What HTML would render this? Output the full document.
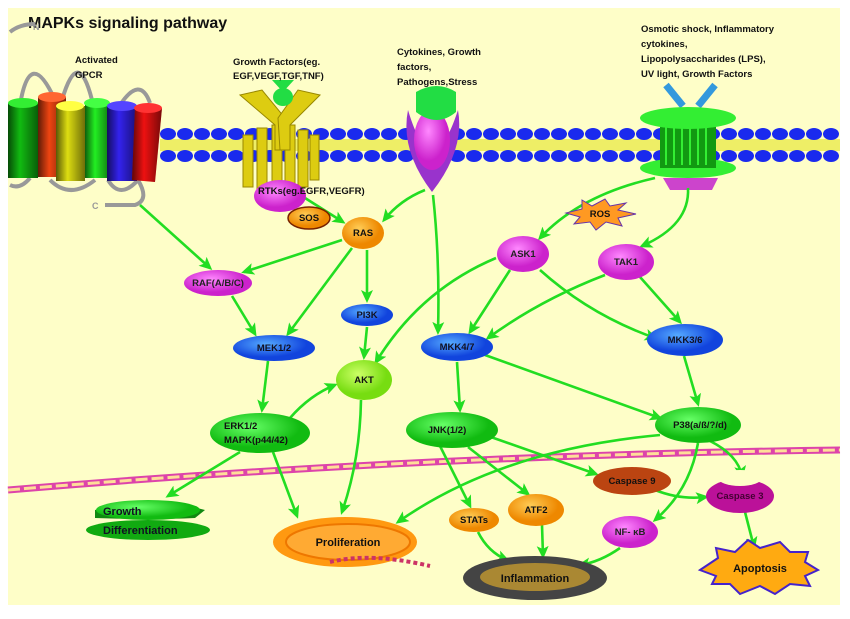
<!DOCTYPE html>
<html><head><meta charset="utf-8"><style>
html,body{margin:0;padding:0;background:#fff;width:850px;height:619px;overflow:hidden}
text{font-family:"Liberation Sans",sans-serif;font-weight:bold}
</style></head><body>
<svg width="850" height="619" viewBox="0 0 850 619" xmlns="http://www.w3.org/2000/svg">
<defs>
<marker id="a" markerWidth="14" markerHeight="12" refX="10" refY="6" orient="auto" markerUnits="userSpaceOnUse"><path d="M0,0 L13,6 L0,12 L3,6 Z" fill="#22dd22"/></marker>
<pattern id="lip" x="156" y="0" width="16.7" height="40" patternUnits="userSpaceOnUse">
<ellipse cx="8.3" cy="134" rx="8" ry="6" fill="#1a2aee"/>
</pattern>
<radialGradient id="gb" cx="40%" cy="35%"><stop offset="0" stop-color="#55aaff"/><stop offset="1" stop-color="#1144dd"/></radialGradient>
<radialGradient id="gm" cx="40%" cy="35%"><stop offset="0" stop-color="#ff88ff"/><stop offset="1" stop-color="#cc22cc"/></radialGradient>
<radialGradient id="gg" cx="40%" cy="35%"><stop offset="0" stop-color="#66ff66"/><stop offset="1" stop-color="#11bb11"/></radialGradient>
<radialGradient id="go" cx="40%" cy="35%"><stop offset="0" stop-color="#ffcc55"/><stop offset="1" stop-color="#ee8800"/></radialGradient>
<radialGradient id="gl" cx="40%" cy="35%"><stop offset="0" stop-color="#ccff66"/><stop offset="1" stop-color="#77dd11"/></radialGradient>
<linearGradient id="cy" x1="0" x2="1"><stop offset="0" stop-color="#000" stop-opacity=".6"/><stop offset=".4" stop-color="#000" stop-opacity="0"/><stop offset="1" stop-color="#000" stop-opacity=".5"/></linearGradient>
</defs>
<rect x="8" y="8" width="832" height="597" fill="#fefec8"/>
<text x="28" y="28" font-size="16" fill="#111">MAPKs signaling pathway</text>

<!-- membrane -->
<rect x="160" y="139" width="680" height="12" fill="#eeee66"/>
<g fill="#1a2aee">
<ellipse cx="168" cy="134" rx="8" ry="6"/><ellipse cx="185" cy="134" rx="8" ry="6"/><ellipse cx="202" cy="134" rx="8" ry="6"/><ellipse cx="219" cy="134" rx="8" ry="6"/><ellipse cx="236" cy="134" rx="8" ry="6"/><ellipse cx="253" cy="134" rx="8" ry="6"/><ellipse cx="270" cy="134" rx="8" ry="6"/><ellipse cx="287" cy="134" rx="8" ry="6"/><ellipse cx="304" cy="134" rx="8" ry="6"/><ellipse cx="321" cy="134" rx="8" ry="6"/><ellipse cx="338" cy="134" rx="8" ry="6"/><ellipse cx="355" cy="134" rx="8" ry="6"/><ellipse cx="372" cy="134" rx="8" ry="6"/><ellipse cx="389" cy="134" rx="8" ry="6"/><ellipse cx="406" cy="134" rx="8" ry="6"/><ellipse cx="423" cy="134" rx="8" ry="6"/><ellipse cx="440" cy="134" rx="8" ry="6"/><ellipse cx="457" cy="134" rx="8" ry="6"/><ellipse cx="474" cy="134" rx="8" ry="6"/><ellipse cx="491" cy="134" rx="8" ry="6"/><ellipse cx="508" cy="134" rx="8" ry="6"/><ellipse cx="525" cy="134" rx="8" ry="6"/><ellipse cx="542" cy="134" rx="8" ry="6"/><ellipse cx="559" cy="134" rx="8" ry="6"/><ellipse cx="576" cy="134" rx="8" ry="6"/><ellipse cx="593" cy="134" rx="8" ry="6"/><ellipse cx="610" cy="134" rx="8" ry="6"/><ellipse cx="627" cy="134" rx="8" ry="6"/><ellipse cx="644" cy="134" rx="8" ry="6"/><ellipse cx="661" cy="134" rx="8" ry="6"/><ellipse cx="678" cy="134" rx="8" ry="6"/><ellipse cx="695" cy="134" rx="8" ry="6"/><ellipse cx="712" cy="134" rx="8" ry="6"/><ellipse cx="729" cy="134" rx="8" ry="6"/><ellipse cx="746" cy="134" rx="8" ry="6"/><ellipse cx="763" cy="134" rx="8" ry="6"/><ellipse cx="780" cy="134" rx="8" ry="6"/><ellipse cx="797" cy="134" rx="8" ry="6"/><ellipse cx="814" cy="134" rx="8" ry="6"/><ellipse cx="831" cy="134" rx="8" ry="6"/>
</g>
<g fill="#1a2aee" transform="translate(0,22)">
<ellipse cx="168" cy="134" rx="8" ry="6"/><ellipse cx="185" cy="134" rx="8" ry="6"/><ellipse cx="202" cy="134" rx="8" ry="6"/><ellipse cx="219" cy="134" rx="8" ry="6"/><ellipse cx="236" cy="134" rx="8" ry="6"/><ellipse cx="253" cy="134" rx="8" ry="6"/><ellipse cx="270" cy="134" rx="8" ry="6"/><ellipse cx="287" cy="134" rx="8" ry="6"/><ellipse cx="304" cy="134" rx="8" ry="6"/><ellipse cx="321" cy="134" rx="8" ry="6"/><ellipse cx="338" cy="134" rx="8" ry="6"/><ellipse cx="355" cy="134" rx="8" ry="6"/><ellipse cx="372" cy="134" rx="8" ry="6"/><ellipse cx="389" cy="134" rx="8" ry="6"/><ellipse cx="406" cy="134" rx="8" ry="6"/><ellipse cx="423" cy="134" rx="8" ry="6"/><ellipse cx="440" cy="134" rx="8" ry="6"/><ellipse cx="457" cy="134" rx="8" ry="6"/><ellipse cx="474" cy="134" rx="8" ry="6"/><ellipse cx="491" cy="134" rx="8" ry="6"/><ellipse cx="508" cy="134" rx="8" ry="6"/><ellipse cx="525" cy="134" rx="8" ry="6"/><ellipse cx="542" cy="134" rx="8" ry="6"/><ellipse cx="559" cy="134" rx="8" ry="6"/><ellipse cx="576" cy="134" rx="8" ry="6"/><ellipse cx="593" cy="134" rx="8" ry="6"/><ellipse cx="610" cy="134" rx="8" ry="6"/><ellipse cx="627" cy="134" rx="8" ry="6"/><ellipse cx="644" cy="134" rx="8" ry="6"/><ellipse cx="661" cy="134" rx="8" ry="6"/><ellipse cx="678" cy="134" rx="8" ry="6"/><ellipse cx="695" cy="134" rx="8" ry="6"/><ellipse cx="712" cy="134" rx="8" ry="6"/><ellipse cx="729" cy="134" rx="8" ry="6"/><ellipse cx="746" cy="134" rx="8" ry="6"/><ellipse cx="763" cy="134" rx="8" ry="6"/><ellipse cx="780" cy="134" rx="8" ry="6"/><ellipse cx="797" cy="134" rx="8" ry="6"/><ellipse cx="814" cy="134" rx="8" ry="6"/><ellipse cx="831" cy="134" rx="8" ry="6"/>
</g>

<!-- GPCR -->
<g fill="none" stroke="#999" stroke-width="4">
<path d="M10,32 Q20,24 35,24"/><path d="M20,105 Q30,45 55,100"/><path d="M62,100 Q78,45 92,100"/><path d="M120,105 Q140,75 150,103"/>
<path d="M10,185 Q20,190 30,178 M50,180 Q70,200 95,180 M108,180 Q120,200 138,180 M138,180 Q150,200 135,205 L105,205"/>
</g>
<text x="33" y="30" font-size="9" fill="#999">N</text>
<text x="92" y="209" font-size="9" fill="#999">C</text>
<g>
<rect x="8" y="103" width="30" height="75" fill="#11bb11"/><rect x="8" y="103" width="30" height="75" fill="url(#cy)"/><ellipse cx="23" cy="103" rx="15" ry="5" fill="#33ee33"/>
<rect x="38" y="97" width="28" height="80" fill="#ee4411"/><rect x="38" y="97" width="28" height="80" fill="url(#cy)"/><ellipse cx="52" cy="97" rx="14" ry="5" fill="#ff6633"/>
<rect x="56" y="106" width="29" height="75" fill="#dddd11"/><rect x="56" y="106" width="29" height="75" fill="url(#cy)"/><ellipse cx="70" cy="106" rx="14" ry="5" fill="#ffff44"/>
<rect x="85" y="103" width="25" height="75" fill="#22ee22"/><rect x="85" y="103" width="25" height="75" fill="url(#cy)"/><ellipse cx="97" cy="103" rx="13" ry="5" fill="#44ff44"/>
<rect x="107" y="106" width="30" height="75" fill="#3322ee"/><rect x="107" y="106" width="30" height="75" fill="url(#cy)"/><ellipse cx="122" cy="106" rx="15" ry="5" fill="#5544ff"/>
<path d="M135,108 L162,108 L155,182 L132,180 Z" fill="#ee1111"/><path d="M135,108 L162,108 L155,182 L132,180 Z" fill="url(#cy)"/><ellipse cx="148" cy="108" rx="14" ry="5" fill="#ff3333"/>
</g>
<text x="75" y="63" font-size="9.5" fill="#111">Activated</text>
<text x="75" y="78" font-size="9.5" fill="#111">GPCR</text>

<!-- RTK -->
<g fill="#ddcc11" stroke="#998800" stroke-width="1">
<rect x="243" y="135" width="10" height="52"/><rect x="257" y="128" width="10" height="62"/><rect x="272" y="125" width="10" height="65"/><rect x="285" y="125" width="10" height="65"/><rect x="298" y="130" width="10" height="57"/><rect x="310" y="135" width="9" height="45"/>
<path d="M240,95 L262,90 L285,118 L285,150 L275,150 L275,125 Z"/><path d="M320,95 L298,90 L278,118 L280,150 L290,150 L290,125 Z"/>
</g>
<ellipse cx="283" cy="97" rx="10" ry="9" fill="#22dd44"/><path d="M272,80 L294,80 L283,92Z" fill="#22dd44"/>
<text x="233" y="65" font-size="9.5" fill="#111">Growth Factors(eg.</text>
<text x="233" y="79" font-size="9.5" fill="#111">EGF,VEGF,TGF,TNF)</text>

<!-- cytokine receptor -->
<path d="M408,110 Q400,150 432,192 Q465,150 458,110 Q445,150 432,150 Q420,150 408,110Z" fill="#9933cc"/>
<ellipse cx="432" cy="140" rx="18" ry="30" fill="url(#gm)"/>
<path d="M416,92 Q437,80 456,92 L456,112 Q437,128 416,112 Z" fill="#22dd44"/>
<text x="397" y="55" font-size="9.5" fill="#111">Cytokines, Growth</text>
<text x="397" y="70" font-size="9.5" fill="#111">factors,</text>
<text x="397" y="85" font-size="9.5" fill="#111">Pathogens,Stress</text>

<!-- osmotic channel -->
<line x1="666" y1="85" x2="683" y2="106" stroke="#3399dd" stroke-width="7"/><line x1="715" y1="85" x2="698" y2="106" stroke="#3399dd" stroke-width="7"/>
<path d="M663,178 L718,178 L712,190 L670,190Z" fill="#cc44cc"/>
<ellipse cx="688" cy="168" rx="48" ry="10" fill="#33ee33"/>
<rect x="660" y="118" width="56" height="50" fill="#119911"/>
<g stroke="#33ee33" stroke-width="2"><line x1="666" y1="125" x2="666" y2="165"/><line x1="674" y1="125" x2="674" y2="165"/><line x1="682" y1="125" x2="682" y2="165"/><line x1="690" y1="125" x2="690" y2="165"/><line x1="698" y1="125" x2="698" y2="165"/><line x1="706" y1="125" x2="706" y2="165"/></g>
<ellipse cx="688" cy="118" rx="48" ry="11" fill="#33ee33"/>
<text x="641" y="32" font-size="9.5" fill="#111">Osmotic shock, Inflammatory</text>
<text x="641" y="47" font-size="9.5" fill="#111">cytokines,</text>
<text x="641" y="62" font-size="9.5" fill="#111">Lipopolysaccharides (LPS),</text>
<text x="641" y="77" font-size="9.5" fill="#111">UV light, Growth Factors</text>

<!-- nuclear membrane -->
<path d="M8,490 Q420,455 840,450" fill="none" stroke="#dd44aa" stroke-width="7"/>
<path d="M8,490 Q420,455 840,450" fill="none" stroke="#ffdd99" stroke-width="3" stroke-dasharray="12 4"/>

<!-- edges -->
<g fill="none" stroke="#22dd22" stroke-width="2.6" marker-end="url(#a)">
<path d="M140,205 L210,268"/>
<path d="M305,198 L343,222"/>
<path d="M425,190 Q400,200 384,220"/>
<path d="M342,240 L244,272"/>
<path d="M367,250 L367,300"/>
<path d="M352,248 L288,334"/>
<path d="M232,296 L255,334"/>
<path d="M367,327 L364,357"/>
<path d="M496,258 Q420,290 376,362"/>
<path d="M433,195 Q440,260 438,332"/>
<path d="M268,361 L262,410"/>
<path d="M290,418 Q310,395 335,385"/>
<path d="M240,452 L168,496"/>
<path d="M273,452 L297,516"/>
<path d="M361,400 Q360,460 342,512"/>
<path d="M660,435 Q500,450 398,522"/>
<path d="M510,270 L470,332"/>
<path d="M540,270 Q590,315 655,338"/>
<path d="M605,275 Q540,300 488,338"/>
<path d="M640,277 L680,322"/>
<path d="M655,178 Q580,195 540,238"/>
<path d="M688,188 Q690,225 642,246"/>
<path d="M457,362 L460,410"/>
<path d="M485,355 L660,418"/>
<path d="M684,356 L698,404"/>
<path d="M440,446 L470,506"/>
<path d="M468,447 L528,494"/>
<path d="M488,436 L596,474"/>
<path d="M698,443 Q690,490 655,520"/>
<path d="M710,441 Q738,455 742,476"/>
<path d="M655,490 Q680,500 706,497"/>
<path d="M478,532 Q488,552 507,560"/>
<path d="M542,525 L543,556"/>
<path d="M620,548 Q600,562 580,565"/>
<path d="M745,512 L754,547"/>
</g>

<!-- nodes -->
<ellipse cx="280" cy="196" rx="26" ry="16" fill="url(#gm)"/>
<text x="258" y="194" font-size="9.5" fill="#111">RTKs(eg.EGFR,VEGFR)</text>
<ellipse cx="309" cy="218" rx="21" ry="11" fill="url(#go)" stroke="#772200" stroke-width="1.5"/>
<text x="309" y="221" font-size="9.5" fill="#111" text-anchor="middle">SOS</text>
<ellipse cx="363" cy="233" rx="21" ry="16" fill="url(#go)"/>
<text x="363" y="236" font-size="9.5" fill="#111" text-anchor="middle">RAS</text>
<ellipse cx="218" cy="283" rx="34" ry="13" fill="url(#gm)"/>
<text x="218" y="286" font-size="9.5" fill="#222" text-anchor="middle">RAF(A/B/C)</text>
<ellipse cx="367" cy="315" rx="26" ry="11" fill="url(#gb)"/>
<text x="367" y="318" font-size="9.5" fill="#112" text-anchor="middle">PI3K</text>
<ellipse cx="274" cy="348" rx="41" ry="13" fill="url(#gb)"/>
<text x="274" y="351" font-size="9.5" fill="#112" text-anchor="middle">MEK1/2</text>
<ellipse cx="364" cy="380" rx="28" ry="20" fill="url(#gl)"/>
<text x="364" y="383" font-size="9.5" fill="#111" text-anchor="middle">AKT</text>
<ellipse cx="260" cy="433" rx="50" ry="20" fill="url(#gg)"/>
<text x="224" y="429" font-size="9.5" fill="#111">ERK1/2</text>
<text x="224" y="443" font-size="9.5" fill="#111">MAPK(p44/42)</text>
<ellipse cx="457" cy="347" rx="36" ry="14" fill="url(#gb)"/>
<text x="457" y="350" font-size="9.5" fill="#112" text-anchor="middle">MKK4/7</text>
<ellipse cx="523" cy="254" rx="26" ry="18" fill="url(#gm)"/>
<text x="523" y="257" font-size="9.5" fill="#222" text-anchor="middle">ASK1</text>
<ellipse cx="626" cy="262" rx="28" ry="18" fill="url(#gm)"/>
<text x="626" y="265" font-size="9.5" fill="#222" text-anchor="middle">TAK1</text>
<path d="M582,200 L592,206 L605,199 L610,206 L626,203 L618,210 L636,214 L618,218 L622,226 L606,222 L596,230 L590,222 L574,224 L580,217 L566,213 L582,209 Z" fill="#ff9922" stroke="#6633aa" stroke-width="1"/>
<text x="600" y="217" font-size="9.5" fill="#111" text-anchor="middle">ROS</text>
<ellipse cx="685" cy="340" rx="38" ry="16" fill="url(#gb)"/>
<text x="685" y="343" font-size="9.5" fill="#112" text-anchor="middle">MKK3/6</text>
<ellipse cx="452" cy="430" rx="46" ry="18" fill="url(#gg)"/>
<text x="447" y="433" font-size="9.5" fill="#111" text-anchor="middle">JNK(1/2)</text>
<ellipse cx="698" cy="425" rx="43" ry="18" fill="url(#gg)"/>
<text x="700" y="428" font-size="9.5" fill="#111" text-anchor="middle">P38(a/ß/?/d)</text>
<ellipse cx="632" cy="481" rx="39" ry="14" fill="#bb4411"/>
<text x="632" y="484" font-size="9.5" fill="#111" text-anchor="middle">Caspase 9</text>
<ellipse cx="740" cy="496" rx="34" ry="17" fill="#bb1199"/>
<ellipse cx="740" cy="478" rx="22" ry="8" fill="#fefec8"/>
<text x="740" y="499" font-size="9.5" fill="#440033" text-anchor="middle">Caspase 3</text>
<ellipse cx="474" cy="520" rx="25" ry="12" fill="url(#go)"/>
<text x="474" y="523" font-size="9.5" fill="#111" text-anchor="middle">STATs</text>
<ellipse cx="536" cy="510" rx="28" ry="16" fill="url(#go)"/>
<text x="536" y="513" font-size="9.5" fill="#111" text-anchor="middle">ATF2</text>
<ellipse cx="630" cy="532" rx="28" ry="16" fill="url(#gm)"/>
<text x="630" y="535" font-size="9.5" fill="#222" text-anchor="middle">NF- κB</text>
<ellipse cx="535" cy="578" rx="72" ry="22" fill="#444"/>
<ellipse cx="535" cy="577" rx="55" ry="14" fill="#aa8833"/>
<text x="535" y="582" font-size="11" fill="#111" text-anchor="middle">Inflammation</text>
<path d="M700,570 L718,558 L716,548 L735,552 L748,540 L760,548 L780,542 L790,552 L808,552 L805,562 L818,570 L805,576 L810,586 L790,584 L775,594 L760,586 L740,594 L730,584 L712,584 L716,576 Z" fill="#ffaa11" stroke="#4422cc" stroke-width="2"/>
<text x="760" y="572" font-size="11" fill="#111" text-anchor="middle">Apoptosis</text>
<ellipse cx="345" cy="542" rx="72" ry="25" fill="#ff9911"/>
<ellipse cx="348" cy="542" rx="62" ry="18" fill="#ffaa33" stroke="#ee7700" stroke-width="2"/>
<text x="348" y="546" font-size="11" fill="#111" text-anchor="middle">Proliferation</text>
<path d="M330,562 Q370,552 430,566" stroke="#cc3366" stroke-width="4" fill="none" stroke-dasharray="4 3"/>
<path d="M95,510 Q150,495 205,510 L195,518 Q150,520 95,518Z" fill="#118811"/>
<ellipse cx="148" cy="510" rx="52" ry="10" fill="url(#gg)"/>
<ellipse cx="148" cy="530" rx="62" ry="10" fill="#11aa11"/>
<text x="103" y="515" font-size="11" fill="#112">Growth</text>
<text x="103" y="534" font-size="11" fill="#112">Differentiation</text>
</svg>
</body></html>
